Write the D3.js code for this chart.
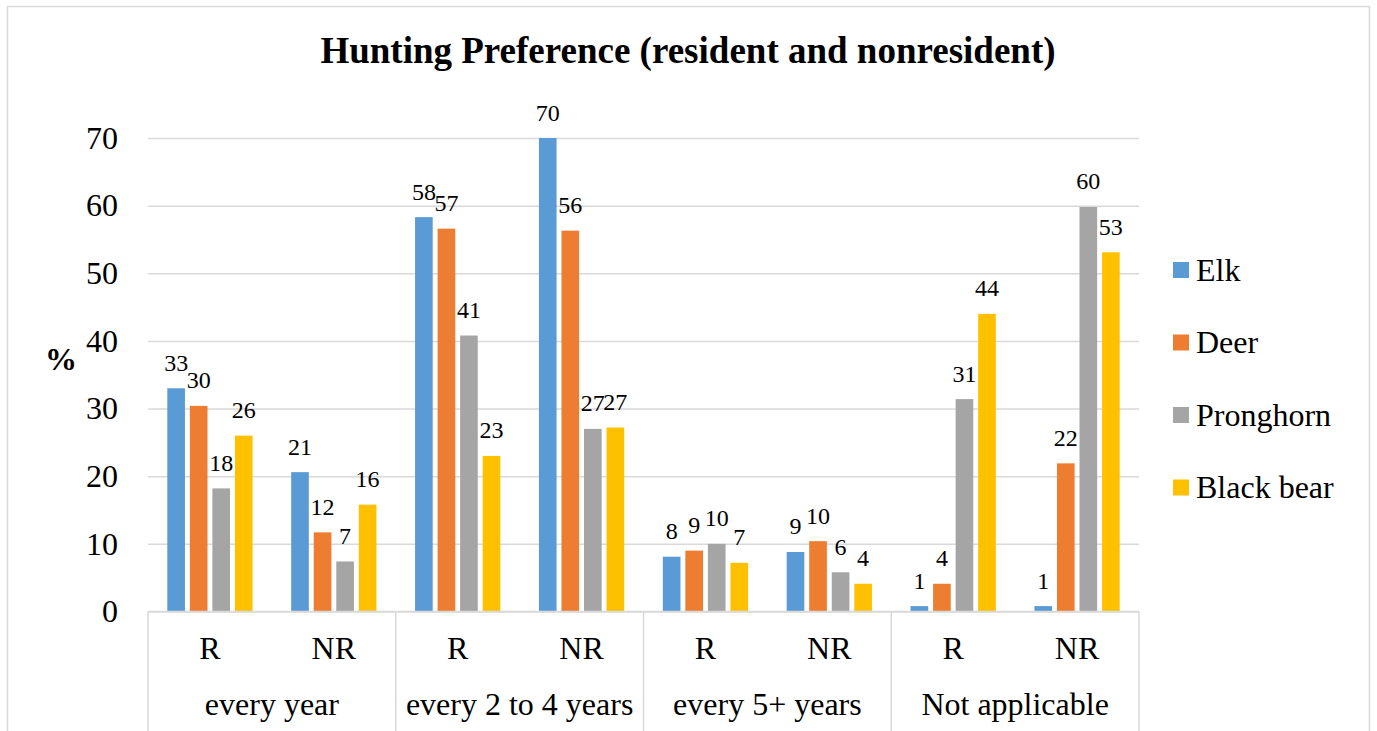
<!DOCTYPE html>
<html>
<head>
<meta charset="utf-8">
<script src="https://cdn.jsdelivr.net/npm/d3@7"></script>
<style>
  body { margin: 0; background: #fff; }
</style>
</head>
<body>
<div id="chart"></div>
<script>
// chart values
var categories = ['every year', 'every 2 to 4 years', 'every 5+ years', 'Not applicable'];
var residency = ['R', 'NR'];
var species = ['Elk', 'Deer', 'Pronghorn', 'Black bear'];
var colors = ['#5B9BD5', '#ED7D31', '#A5A5A5', '#FFC000'];
// one value per category x residency, in order R, NR for each category
var elk = [33.0, 20.6, 58.3, 70.0, 8.1, 8.8, 0.8, 0.8];
var deer = [30.4, 11.7, 56.6, 56.3, 9.0, 10.4, 4.1, 21.9];
var pronghorn = [18.2, 7.4, 40.8, 27.0, 10.0, 5.8, 31.4, 59.8];
var blackBear = [26.0, 15.8, 23.0, 27.2, 7.2, 4.1, 44.0, 53.1];
var yTicks = [0, 10, 20, 30, 40, 50, 60, 70];

var serif = '"Liberation Serif", "Times New Roman", Times, serif';
var width = 1377;
var height = 731;
var margin = { top: 138, left: 148 };
var g_width = 1139 - margin.left;
var g_height = 611.5 - margin.top;

var svg = d3.select('#chart').append('svg')
	.attr('width', width)
	.attr('height', height);

// small helper so every text gets the same serif font
function txt(sel, size) {
	return sel.append('text')
		.attr('font-family', serif)
		.style('font-family', serif)
		.style('font-size', size + 'px')
		.attr('fill', '#000');
}

// outer chart border
svg.append('rect')
	.attr('x', 7.5).attr('y', 6.5)
	.attr('width', 1362).attr('height', 800)
	.attr('fill', 'none')
	.attr('stroke', '#d9d9d9')
	.attr('stroke-width', 1.5);

txt(svg, 37)
	.attr('x', 688)
	.attr('y', 63)
	.attr('text-anchor', 'middle')
	.style('font-weight', 'bold')
	.text('Hunting Preference (resident and nonresident)');

var g = svg.append('g')
	.attr('transform', 'translate(' + margin.left + ',' + margin.top + ')');

// build the rows: one per category/residency pair
var series = [elk, deer, pronghorn, blackBear];
var rows = [];
categories.forEach(function (c, ci) {
	residency.forEach(function (r, ri) {
		var idx = ci * residency.length + ri;
		rows.push({
			key: c + '|' + r,
			category: c,
			res: r,
			values: species.map(function (s, si) { return { species: s, value: series[si][idx] }; })
		});
	});
});

var yScale = d3.scaleLinear()
	.domain([0, 70])
	.range([g_height, 0]);

var x0 = d3.scaleBand()
	.domain(rows.map(function (d) { return d.key; }))
	.range([0, g_width]);

var x1 = d3.scaleBand()
	.domain(species)
	.range([19.3, x0.bandwidth() - 19.3])
	.paddingInner(0.217);

var colorScale = d3.scaleOrdinal()
	.domain(species)
	.range(colors);

// gridlines + tick labels
var yAxis = d3.axisLeft(yScale)
	.tickValues(yTicks)
	.tickSize(-g_width)
	.tickPadding(30);
var yg = g.append('g').attr('class', 'y axis').call(yAxis);
yg.attr('font-family', serif).attr('font-size', 32);
yg.select('.domain').remove();
yg.selectAll('.tick line').attr('stroke', '#d9d9d9').attr('stroke-width', 1.5);
yg.selectAll('.tick text')
	.style('font-size', '32px')
	.style('font-family', serif)
	.attr('fill', '#000');

txt(svg, 32)
	.attr('x', 61)
	.attr('y', 370)
	.attr('text-anchor', 'middle')
	.style('font-weight', 'bold')
	.text('%');

// bars
var groups = g.selectAll('.group')
	.data(rows)
	.enter().append('g')
	.attr('class', 'group')
	.attr('transform', function (d) { return 'translate(' + x0(d.key) + ',0)'; });

groups.selectAll('rect')
	.data(function (d) { return d.values; })
	.enter().append('rect')
	.attr('x', function (d) { return x1(d.species); })
	.attr('y', function (d) { return yScale(d.value); })
	.attr('width', x1.bandwidth())
	.attr('height', function (d) { return g_height - yScale(d.value); })
	.attr('fill', function (d) { return colorScale(d.species); });

groups.each(function (row) {
	var grp = d3.select(this);
	row.values.forEach(function (d) {
		txt(grp, 24)
			.attr('x', x1(d.species) + x1.bandwidth() / 2)
			.attr('y', yScale(d.value) - 17.5)
			.attr('text-anchor', 'middle')
			.text(Math.round(d.value));
	});
});

// category axis
var axisColor = '#d9d9d9';
g.append('line')
	.attr('x1', 0).attr('x2', g_width)
	.attr('y1', g_height).attr('y2', g_height)
	.attr('stroke', axisColor).attr('stroke-width', 1.5);

var catWidth = x0.bandwidth() * residency.length;
d3.range(categories.length + 1).forEach(function (i) {
	g.append('line')
		.attr('x1', i * catWidth).attr('x2', i * catWidth)
		.attr('y1', g_height).attr('y2', height)
		.attr('stroke', axisColor).attr('stroke-width', 1.5);
});

rows.forEach(function (d) {
	txt(g, 32)
		.attr('x', x0(d.key) + x0.bandwidth() / 2)
		.attr('y', g_height + 47.5)
		.attr('text-anchor', 'middle')
		.text(d.res);
});

categories.forEach(function (d, i) {
	txt(g, 32)
		.attr('x', i * catWidth + catWidth / 2)
		.attr('y', g_height + 103.5)
		.attr('text-anchor', 'middle')
		.text(d);
});

// legend
var legend = svg.append('g').attr('class', 'legend');
species.forEach(function (s, i) {
	var cy = 270 + i * 72.5;
	legend.append('rect')
		.attr('x', 1173).attr('y', cy - 8)
		.attr('width', 16).attr('height', 16)
		.attr('fill', colorScale(s));
	txt(legend, 32)
		.attr('x', 1196).attr('y', cy + 10.5)
		.text(s);
});
</script>
</body>
</html>
